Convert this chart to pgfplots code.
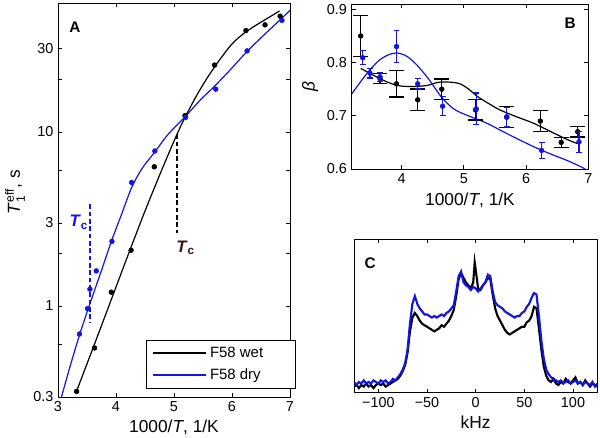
\documentclass[border=0pt]{standalone}
\usepackage{fontspec}
\setmainfont{Liberation Sans}
\usepackage{amsmath}
\usepackage{pgfplots}
\pgfplotsset{compat=1.18}
\definecolor{myblue}{rgb}{0.08,0.08,0.88}
\definecolor{tcbrown}{rgb}{0.25,0.07,0.07}
\pgfplotsset{
  panel/.style={
    scale only axis,
    anchor=south west,
    tick align=inside,
    major tick length=3pt,
    minor tick length=0pt,
    tick style={black, line width=0.5pt},
    axis line style={line width=0.6pt},
    /pgf/number format/assume math mode=true,
    xticklabel style={font=\fontsize{10.8}{12}\selectfont},
    yticklabel style={font=\fontsize{10.8}{12}\selectfont},
    clip mode=individual,
  },
}
\newcommand{\lblfont}{\fontsize{13}{15}\selectfont}
\begin{document}
\begin{tikzpicture}
\path[use as bounding box] (0pt,0pt) rectangle (450pt,328.5pt);
% ---------------- Panel A ----------------
\begin{axis}[panel,
  at={(43.5pt,30.75pt)}, width=174pt, height=295.5pt,
  xmin=3, xmax=7, ymode=log, ymin=0.3, ymax=55,
  xtick={3,4,5,6,7},
  ytick={0.3,0.6,1,2,3,6,10,20,30},
  yticklabels={0.3,,1,,3,,10,,30},
  xlabel={1000/\textit{T}, 1/K},
  ylabel={\textit{T}$_{\text{1}}^{\text{eff}}$, s},
  every axis x label/.style={at={(rel axis cs:0.5,0)}, anchor=center, yshift=-22.5pt, font=\lblfont},
  every axis y label/.style={at={(rel axis cs:-0.185,0.52)}, anchor=center, rotate=90, font=\lblfont},
  legend style={at={(rel axis cs:1.025,0.022)}, anchor=south east, draw=black, line width=0.6pt,
    font=\fontsize{11.2}{13}\selectfont, inner xsep=4pt, inner ysep=3pt, row sep=3pt, cells={anchor=west}},
  legend image code/.code={\draw[#1, line width=2pt] (0pt,0pt) -- (40pt,0pt);},
]
% dashed Tc markers
\addplot[black, line width=1.2pt, dash pattern=on 3.5pt off 2pt, forget plot] coordinates {(5.05,9.7) (5.05,2.64)};
\addplot[myblue, line width=1.5pt, dash pattern=on 3.5pt off 2pt, forget plot] coordinates {(3.545,3.84) (3.545,0.8)};
% black (wet) model
\addplot[black, line width=0.9pt, smooth, forget plot] coordinates {
(3.32,0.324) (3.6,0.569) (3.9,1.047) (4.2,1.93) (4.5,3.51) (4.8,6.17) (5.05,9.66)
(5.2,12.3) (5.4,16.4) (5.6,21.1) (5.8,26.3) (6.0,32.0) (6.2,36.7) (6.4,40.7) (6.6,44.7) (6.82,49.5)};
% blue (dry) model
\addplot[myblue, line width=0.9pt, smooth, forget plot] coordinates {
(3.06,0.3) (3.2,0.44) (3.37,0.68) (3.55,1.03) (3.75,1.6) (3.93,2.4) (4.1,3.39) (4.27,4.79)
(4.45,6.17) (4.67,7.67) (4.9,9.7) (5.2,12.3) (5.45,15.2) (5.72,18.6) (6.0,23.3) (6.26,29)
(6.55,36) (6.86,45) (7.0,50)};
% data points
\addplot[only marks, mark=*, mark size=1.8pt, black, forget plot] coordinates {
(3.32,0.323) (3.63,0.574) (3.92,1.2) (4.26,2.09) (4.66,6.3) (5.19,12.4) (5.70,24.2)
(6.24,38.2) (6.57,41.2) (6.83,46.2)};
\addplot[only marks, mark=*, mark size=1.8pt, myblue, forget plot] coordinates {
(3.37,0.69) (3.51,0.965) (3.55,1.25) (3.66,1.59) (3.93,2.35) (4.27,5.12) (4.67,7.77)
(5.20,12.1) (5.72,17.6) (6.26,29.2) (6.86,43.7)};
\addlegendimage{black}
\addlegendentry{\makebox[58pt][l]{F58 wet}}
\addlegendimage{myblue}
\addlegendentry{\makebox[58pt][l]{F58 dry}}
\node[font=\bfseries\fontsize{11.5}{13}\selectfont] at (rel axis cs:0.073,0.939) {A};
\node[font=\bfseries\fontsize{12.5}{14}\selectfont, text=tcbrown] at (axis cs:5.2,2.15) {\textit{T}\textsubscript{c}};
\node[font=\bfseries\fontsize{12.5}{14}\selectfont, text=myblue] at (axis cs:3.36,3.02) {\textit{T}\textsubscript{c}};
\end{axis}
% ---------------- Panel B ----------------
\begin{axis}[panel,
  at={(263.775pt,201.75pt)}, width=177.45pt, height=123.75pt,
  xmin=3.2, xmax=7, ymin=0.6, ymax=0.91,
  xtick={4,5,6,7}, ytick={0.6,0.7,0.8,0.9},
  yticklabel style={/pgf/number format/fixed, /pgf/number format/precision=1, /pgf/number format/fixed zerofill},
  xlabel={1000/\textit{T}, 1/K},
  ylabel={\textit{β}},
  every axis x label/.style={at={(rel axis cs:0.5,0)}, anchor=center, yshift=-23.25pt, font=\lblfont},
  every axis y label/.style={at={(rel axis cs:-0.176,0.5)}, anchor=center, rotate=90, font=\lblfont},
]
\addplot[black, line width=0.9pt, smooth] coordinates {
(3.345,0.789) (3.6,0.773) (3.8,0.762) (3.98,0.756) (4.2,0.755) (4.41,0.757) (4.6,0.763)
(4.8,0.763) (4.94,0.760) (5.08,0.750) (5.21,0.737) (5.4,0.723) (5.58,0.711) (5.85,0.698)
(6.12,0.686) (6.4,0.670) (6.65,0.656) (6.82,0.648)};
\addplot[myblue, line width=0.9pt, smooth] coordinates {
(3.2,0.741) (3.35,0.765) (3.49,0.786) (3.65,0.805) (3.8,0.815) (3.92,0.818) (4.05,0.814)
(4.14,0.807) (4.25,0.795) (4.41,0.773) (4.55,0.750) (4.67,0.731) (4.85,0.712) (5.05,0.701)
(5.37,0.686) (5.7,0.666) (6.12,0.642) (6.4,0.628) (6.66,0.616) (6.85,0.606) (6.95,0.600)};
\addplot[black, only marks, mark=*, mark size=1.8pt,
  error bars/.cd, y dir=both, y explicit,
  error bar style={line width=1pt, black},
  error mark options={rotate=90, mark size=5.5pt, line width=1pt, black}]
  coordinates {
(3.345,0.850) +- (0,0.039)
(3.655,0.770) +- (0,0.010)
(3.92,0.760) +- (0,0.025)
(4.26,0.730) +- (0,0.020)
(4.647,0.750) +- (0,0.019)
(5.19,0.711) +- (0,0.019)
(5.69,0.698) +- (0,0.020)
(6.23,0.690) +- (0,0.020)
(6.565,0.650) +- (0,0.009)
(6.83,0.670) +- (0,0.010)};
\addplot[myblue, only marks, mark=*, mark size=1.8pt,
  error bars/.cd, y dir=both, y explicit,
  error bar style={line width=1pt, myblue},
  error mark options={rotate=90, mark size=2.2pt, line width=1pt, myblue}]
  coordinates {
(3.377,0.809) +- (0,0.013)
(3.494,0.780) +- (0,0.009)
(3.655,0.773) +- (0,0.008)
(3.92,0.830) +- (0,0.030)
(4.26,0.760) +- (0,0.010)
(4.66,0.718) +- (0,0.018)
(5.2,0.713) +- (0,0.030)
(5.69,0.697) +- (0,0.018)
(6.25,0.635) +- (0,0.015)
(6.85,0.651) +- (0,0.020)};
\node[font=\bfseries\fontsize{11.5}{13}\selectfont] at (rel axis cs:0.923,0.885) {B};
\end{axis}
% ---------------- Panel C ----------------
\begin{axis}[panel,
  at={(265.5pt,33.975pt)}, width=182.5pt, height=115pt,
  xmin=-125, xmax=125, ymin=0, ymax=1,
  xtick={-100,-50,0,50,100}, xticklabels={−100,−50,0,50,100},
  ytick=\empty,
  xlabel={kHz},
  every axis x label/.style={at={(rel axis cs:0.5,0)}, anchor=center, yshift=-22pt, font=\lblfont},
]
\addplot[black, line width=1.6pt] coordinates {
(-125,0.04) (-122.5,0.05) (-120,0.03) (-117.5,0.05) (-115,0.04) (-112.5,0.06) (-110,0.04)
(-107.5,0.05) (-105,0.03) (-102.5,0.05) (-100,0.06) (-97.5,0.05) (-95,0.06) (-92.5,0.04)
(-90,0.05) (-87.5,0.06) (-85,0.07) (-82.5,0.08) (-80,0.09) (-77.5,0.11) (-75,0.14)
(-72.5,0.18) (-70,0.26) (-67.5,0.40) (-65,0.49) (-62.5,0.52) (-60,0.50) (-57.5,0.47)
(-55,0.45) (-52.5,0.44) (-50,0.43) (-47.5,0.42) (-45,0.41) (-42.5,0.40) (-40,0.41)
(-37.5,0.42) (-35,0.44) (-32.5,0.43) (-30,0.45) (-27.5,0.47) (-25,0.50) (-22.5,0.54)
(-20,0.63) (-17.5,0.74) (-15,0.78) (-12.5,0.75) (-10,0.72) (-7.5,0.70) (-5,0.68)
(-2.5,0.72) (-1,0.85) (0.5,0.78) (2.5,0.68) (5,0.67) (7.5,0.70) (10,0.72) (12.5,0.75)
(15,0.74) (17.5,0.64) (20,0.55) (22.5,0.50) (25,0.47) (27.5,0.44) (30,0.41) (32.5,0.39)
(35,0.38) (37.5,0.39) (40,0.40) (42.5,0.41) (45,0.42) (47.5,0.43) (50,0.43) (52.5,0.46)
(55,0.47) (57.5,0.50) (60,0.56) (62.5,0.55) (65,0.42) (67.5,0.28) (70,0.17) (72.5,0.11)
(75,0.08) (77.5,0.07) (80,0.09) (82.5,0.06) (85,0.05) (87.5,0.07) (90,0.06) (92.5,0.09)
(95,0.07) (97.5,0.06) (100,0.08) (102.5,0.10) (105,0.06) (107.5,0.07) (110,0.05)
(112.5,0.08) (115,0.06) (117.5,0.04) (120,0.06) (122.5,0.05) (125,0.04)};
\addplot[myblue, line width=1.6pt] coordinates {
(-125,0.07) (-122.5,0.05) (-120,0.07) (-117.5,0.06) (-115,0.08) (-112.5,0.06) (-110,0.07)
(-107.5,0.06) (-105,0.08) (-102.5,0.07) (-100,0.06) (-97.5,0.08) (-95,0.07) (-92.5,0.08)
(-90,0.06) (-87.5,0.07) (-85,0.09) (-82.5,0.08) (-80,0.10) (-77.5,0.12) (-75,0.15)
(-72.5,0.19) (-70,0.28) (-67.5,0.45) (-65,0.58) (-62.5,0.63) (-60,0.58) (-57.5,0.55)
(-55,0.53) (-52.5,0.51) (-50,0.51) (-47.5,0.50) (-45,0.49) (-42.5,0.50) (-40,0.49)
(-37.5,0.50) (-35,0.51) (-32.5,0.50) (-30,0.52) (-27.5,0.53) (-25,0.55) (-22.5,0.57)
(-20,0.66) (-17.5,0.76) (-15,0.79) (-12.5,0.72) (-10,0.70) (-7.5,0.69) (-5,0.67)
(-2.5,0.69) (0,0.68) (2.5,0.66) (5,0.68) (7.5,0.70) (10,0.72) (12.5,0.77) (15,0.76)
(17.5,0.66) (20,0.59) (22.5,0.57) (25,0.56) (27.5,0.55) (30,0.53) (32.5,0.52) (35,0.51)
(37.5,0.50) (40,0.49) (42.5,0.50) (45,0.50) (47.5,0.52) (50,0.53) (52.5,0.56) (55,0.58)
(57.5,0.62) (60,0.65) (62.5,0.64) (65,0.50) (67.5,0.34) (70,0.22) (72.5,0.15) (75,0.12)
(77.5,0.10) (80,0.09) (82.5,0.08) (85,0.07) (87.5,0.08) (90,0.06) (92.5,0.07) (95,0.08)
(97.5,0.06) (100,0.07) (102.5,0.08) (105,0.06) (107.5,0.07) (110,0.05) (112.5,0.07)
(115,0.06) (117.5,0.05) (120,0.07) (122.5,0.04) (125,0.06)};
\node[font=\bfseries\fontsize{11.5}{13}\selectfont] at (rel axis cs:0.066,0.845) {C};
\end{axis}
\end{tikzpicture}
\end{document}
